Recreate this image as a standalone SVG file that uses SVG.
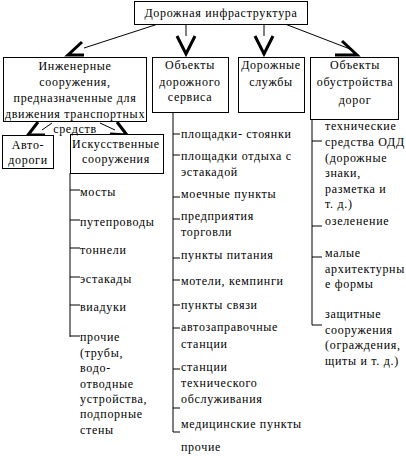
<svg xmlns="http://www.w3.org/2000/svg" width="406" height="456" viewBox="0 0 406 456" font-family="'Liberation Serif', 'Times New Roman', serif">
<style>
.box{fill:#fff;stroke:#000;stroke-width:1}
text{font-family:'Liberation Serif','Times New Roman',serif;font-size:12px;fill:#000;letter-spacing:0.7px}
.c{text-anchor:middle}
.ln{stroke:#000;stroke-width:1;fill:none}
.ah{stroke:#000;stroke-width:3;fill:none;stroke-linejoin:miter}
</style>
<rect width="406" height="456" fill="#fff"/>
<g id="connectors">
<line class="ln" x1="158" y1="24" x2="84" y2="48"/>
<polyline class="ah" points="82,42 68,55 84,55"/>
<line class="ln" x1="186" y1="24" x2="186" y2="36"/>
<polyline class="ah" points="177,36 186,54 195,36"/>
<line class="ln" x1="264" y1="24" x2="264" y2="36"/>
<polyline class="ah" points="255,36 264,54 273,36"/>
<line class="ln" x1="285" y1="24" x2="350" y2="49"/>
<polyline class="ah" points="342,41 357,55 335,55"/>
<line class="ln" x1="52" y1="123" x2="42" y2="130"/>
<polyline class="ah" points="38,122 28,135 45,135"/>
<line class="ln" x1="100" y1="123" x2="115" y2="130"/>
<polyline class="ah" points="117,122 127,135 110,134"/>
<polyline class="ln" points="70,173 70,337"/>
<line class="ln" x1="70" y1="190" x2="80" y2="190"/>
<line class="ln" x1="70" y1="220" x2="80" y2="220"/>
<line class="ln" x1="70" y1="248" x2="80" y2="248"/>
<line class="ln" x1="70" y1="277" x2="80" y2="277"/>
<line class="ln" x1="70" y1="305" x2="80" y2="305"/>
<line class="ln" x1="70" y1="336" x2="80" y2="336"/>
<polyline class="ln" points="173,112 173,432"/>
<line class="ln" x1="173" y1="134" x2="180" y2="134"/>
<line class="ln" x1="173" y1="155" x2="180" y2="155"/>
<line class="ln" x1="173" y1="197" x2="180" y2="197"/>
<line class="ln" x1="173" y1="219" x2="180" y2="219"/>
<line class="ln" x1="173" y1="258" x2="180" y2="258"/>
<line class="ln" x1="173" y1="280" x2="180" y2="280"/>
<line class="ln" x1="173" y1="305" x2="180" y2="305"/>
<line class="ln" x1="173" y1="328" x2="180" y2="328"/>
<line class="ln" x1="173" y1="369" x2="180" y2="369"/>
<line class="ln" x1="173" y1="408" x2="180" y2="408"/>
<line class="ln" x1="173" y1="432" x2="180" y2="432"/>
<polyline class="ln" points="312,120 312,325"/>
<line class="ln" x1="312" y1="141" x2="322" y2="141"/>
<line class="ln" x1="312" y1="226" x2="322" y2="226"/>
<line class="ln" x1="312" y1="257" x2="322" y2="257"/>
<line class="ln" x1="312" y1="325" x2="322" y2="325"/>
</g>
<g id="n_root">
<rect class="box" x="134.5" y="1.5" width="173" height="23"/>
<text class="c" x="221" y="17">Дорожная инфраструктура</text>
</g>
<g id="n_service">
<rect class="box" x="152.5" y="57.5" width="76" height="55"/>
<text class="c" x="190" y="69">Объекты</text>
<text class="c" x="190" y="86">дорожного</text>
<text class="c" x="190" y="101">сервиса</text>
</g>
<g id="n_services">
<rect class="box" x="238.5" y="57.5" width="66" height="55"/>
<text class="c" x="271" y="69">Дорожные</text>
<text class="c" x="271" y="86">службы</text>
</g>
<g id="n_arrange">
<rect class="box" x="310.5" y="57.5" width="88" height="62"/>
<text class="c" x="355" y="69">Объекты</text>
<text class="c" x="355" y="86">обустройства</text>
<text class="c" x="355" y="104">дорог</text>
</g>
<g id="n_roads">
<rect class="box" x="2.5" y="135.5" width="51" height="33"/>
<text class="c" x="28" y="149">Авто-</text>
<text class="c" x="28" y="164">дороги</text>
</g>
<g id="n_artificial">
<rect class="box" x="70.5" y="134.5" width="93" height="39"/>
<text class="c" x="116" y="148">Искусственные</text>
<text class="c" x="116" y="163">сооружения</text>
</g>
<g id="n_eng">
<rect class="box" x="3.5" y="57.5" width="143" height="64"/>
<text class="c" x="75" y="70">Инженерные</text>
<text class="c" x="75" y="86">сооружения,</text>
<text class="c" x="75" y="102">предназначенные для</text>
<text class="c" x="75" y="118">движения транспортных</text>
<text class="c" x="75" y="133">средств</text>
</g>
<g id="list_artificial">
<text x="80" y="196">мосты</text>
<text x="80" y="226">путепроводы</text>
<text x="80" y="254">тоннели</text>
<text x="80" y="283">эстакады</text>
<text x="80" y="311">виадуки</text>
<text x="80" y="341">прочие</text>
<text x="80" y="357">(трубы,</text>
<text x="80" y="372">водо-</text>
<text x="80" y="388">отводные</text>
<text x="80" y="403">устройства,</text>
<text x="80" y="418">подпорные</text>
<text x="80" y="434">стены</text>
</g>
<g id="list_service">
<text x="181" y="138">площадки- стоянки</text>
<text x="181" y="160">площадки отдыха с</text>
<text x="181" y="176">эстакадой</text>
<text x="181" y="198">моечные пункты</text>
<text x="181" y="220">предприятия</text>
<text x="181" y="236">торговли</text>
<text x="181" y="259">пункты питания</text>
<text x="181" y="285">мотели, кемпинги</text>
<text x="181" y="309">пункты связи</text>
<text x="181" y="331">автозаправочные</text>
<text x="181" y="348">станции</text>
<text x="181" y="371">станции</text>
<text x="181" y="387">технического</text>
<text x="181" y="403">обслуживания</text>
<text x="181" y="428">медицинские пункты</text>
<text x="181" y="451">прочие</text>
</g>
<g id="list_arrange">
<text x="325" y="130">технические</text>
<text x="325" y="146">средства ОДД</text>
<text x="325" y="162">(дорожные</text>
<text x="325" y="177">знаки,</text>
<text x="325" y="193">разметка и</text>
<text x="325" y="208">т. д.)</text>
<text x="325" y="225">озеленение</text>
<text x="325" y="257">малые</text>
<text x="325" y="273">архитектурны</text>
<text x="325" y="288">е формы</text>
<text x="325" y="318">защитные</text>
<text x="325" y="334">сооружения</text>
<text x="325" y="349">(ограждения,</text>
<text x="325" y="365">щиты и т. д.)</text>
</g>
</svg>
